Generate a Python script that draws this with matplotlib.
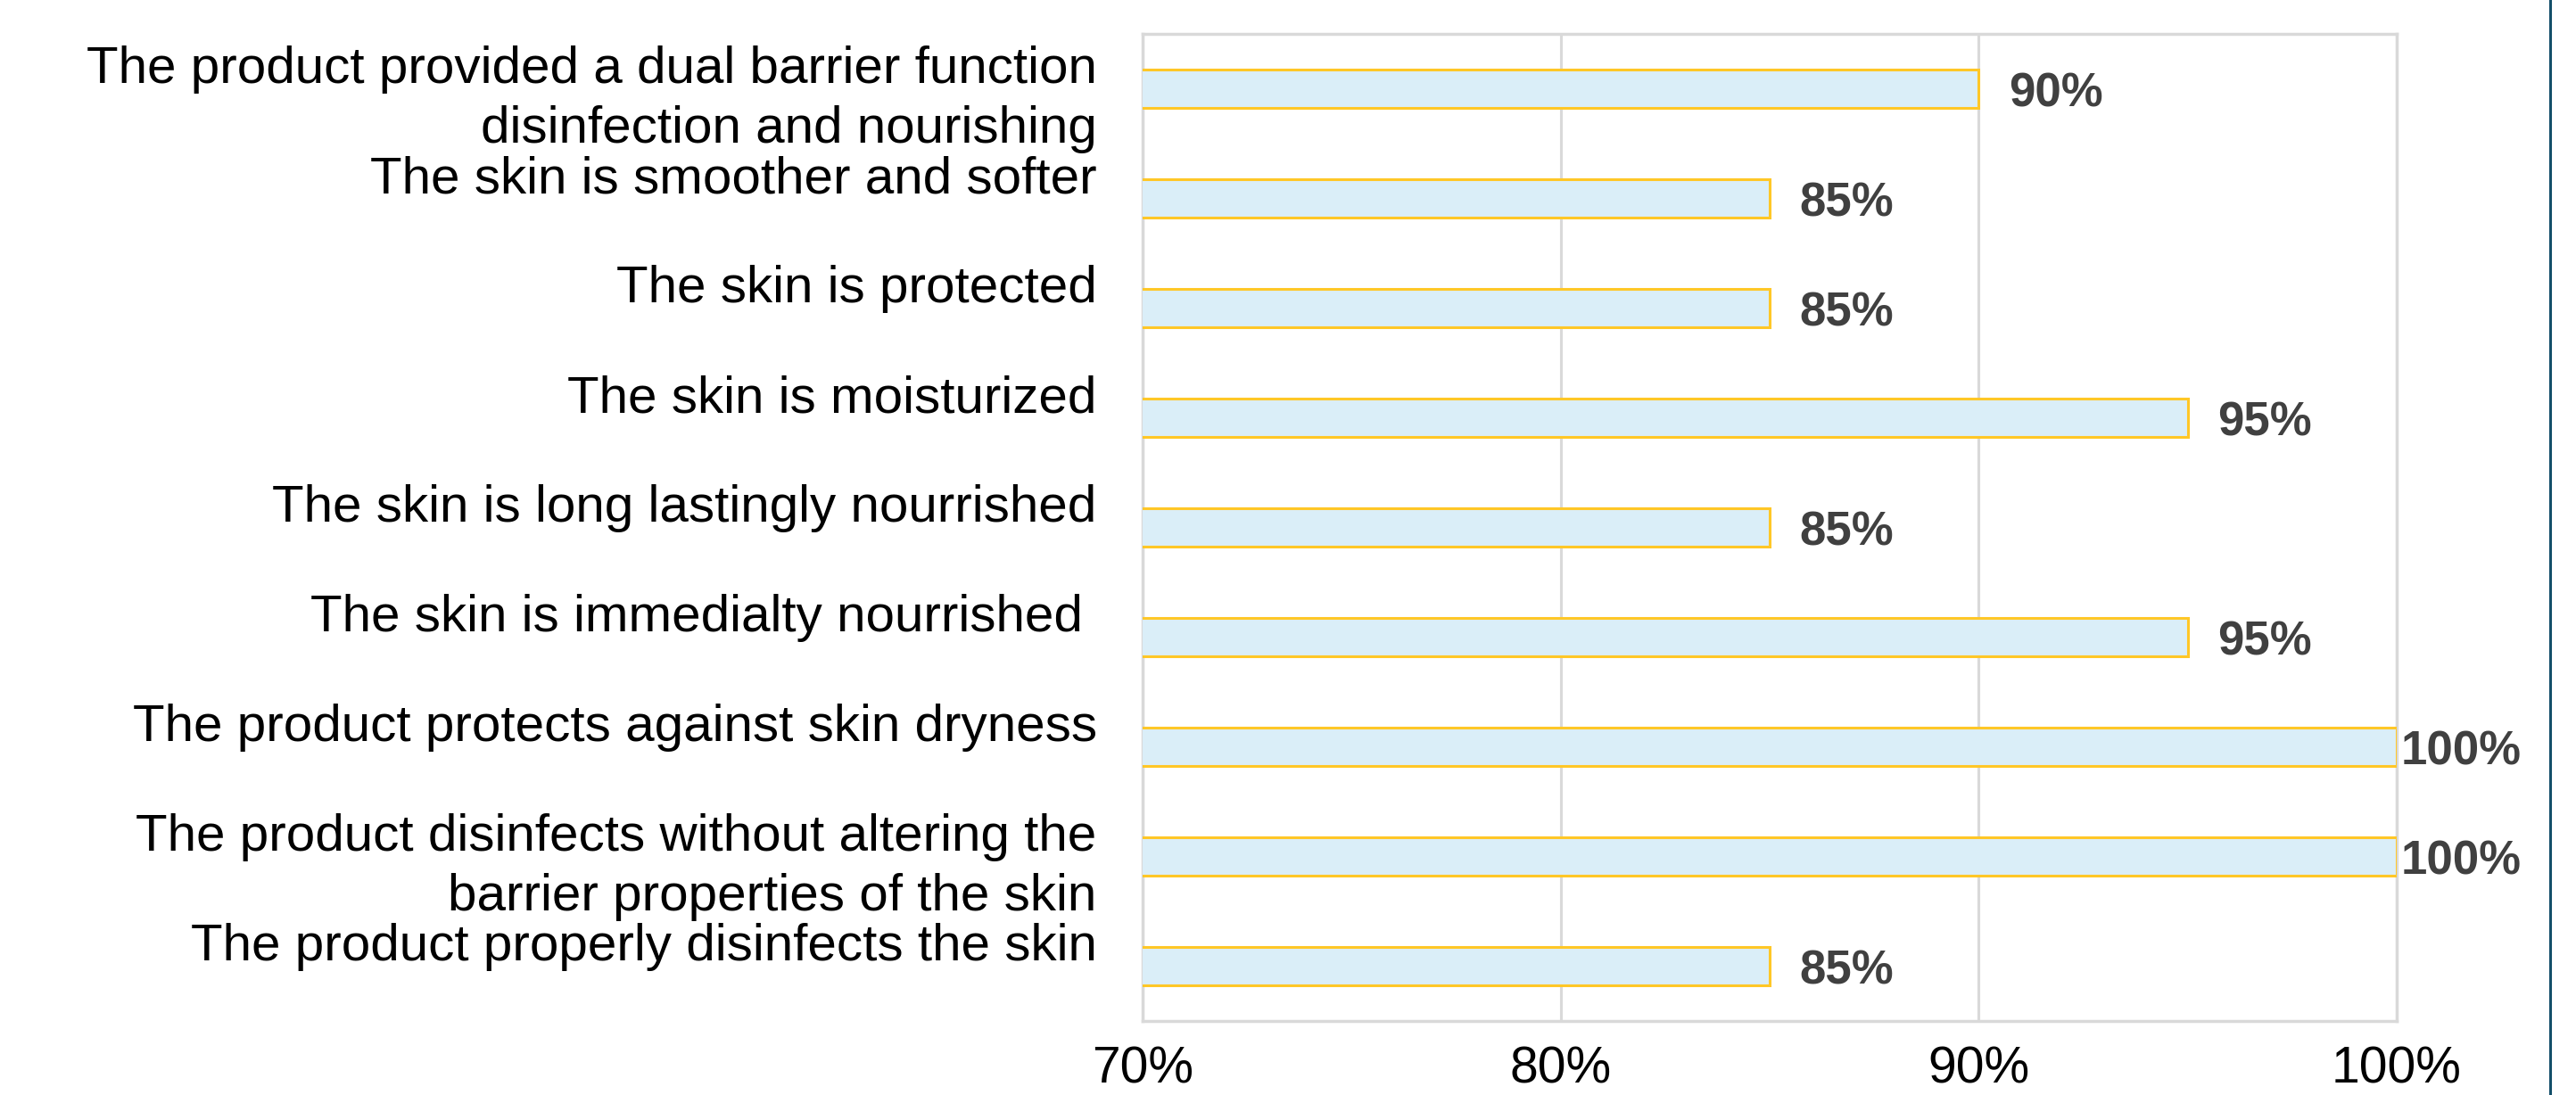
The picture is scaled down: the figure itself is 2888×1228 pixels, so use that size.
import matplotlib
matplotlib.use("Agg")
import matplotlib.pyplot as plt
from matplotlib.ticker import PercentFormatter

# Survey statements, top to bottom as shown in the chart
statements = [
    "The product provided a dual barrier function\ndisinfection and nourishing",
    "The skin is smoother and softer\n",
    "The skin is protected\n",
    "The skin is moisturized\n",
    "The skin is long lastingly nourrished\n",
    "The skin is immedialty nourrished \n",
    "The product protects against skin dryness\n",
    "The product disinfects without altering the\nbarrier properties of the skin",
    "The product properly disinfects the skin\n",
]
# share of participants agreeing (%)
agree_pct = [90, 85, 85, 95, 85, 95, 100, 100, 85]
x_ticks = [70, 80, 90, 100]

plt.rcParams["font.family"] = ["Liberation Sans", "DejaVu Sans"]

fig = plt.figure(figsize=(28.88, 12.28), dpi=100)
ax = fig.add_axes([0.4436, 0.0676, 0.4868, 0.9015])

y = range(len(statements))
ax.barh(y, agree_pct, height=0.35, color="#DAEEF8", edgecolor="#FFC727",
        linewidth=2.2, zorder=3)

ax.set_xlim(70, 100)
ax.set_ylim(len(statements) - 0.5, -0.5)
ax.set_xticks(x_ticks)
ax.xaxis.set_major_formatter(PercentFormatter(decimals=0))
ax.set_yticks(list(y))
ax.set_yticklabels(statements, fontsize=42, linespacing=1.3, color="black")
ax.tick_params(axis="y", length=0, pad=37)
ax.tick_params(axis="x", length=0, pad=20, labelsize=41, labelcolor="black")

ax.grid(axis="x", color="#D9D9D9", linewidth=2.2, zorder=0)
for side in ax.spines.values():
    side.set_color("#D9D9D9")
    side.set_linewidth(2.5)

for yi, v in zip(y, agree_pct):
    pad = 3 if v >= 100 else 24
    ax.annotate(f"{v}%", xy=(v, yi), xytext=(pad, -4), textcoords="offset points",
                va="center", ha="left", fontsize=38, fontweight="bold",
                color="#404040", annotation_clip=False)

# dark frame line at the right edge of the picture
fig.add_artist(plt.Line2D([0.9900, 0.9900], [0, 1], transform=fig.transFigure,
                          color="#134F6A", linewidth=2.2))

fig.savefig("out.png", dpi=100, facecolor="white")
